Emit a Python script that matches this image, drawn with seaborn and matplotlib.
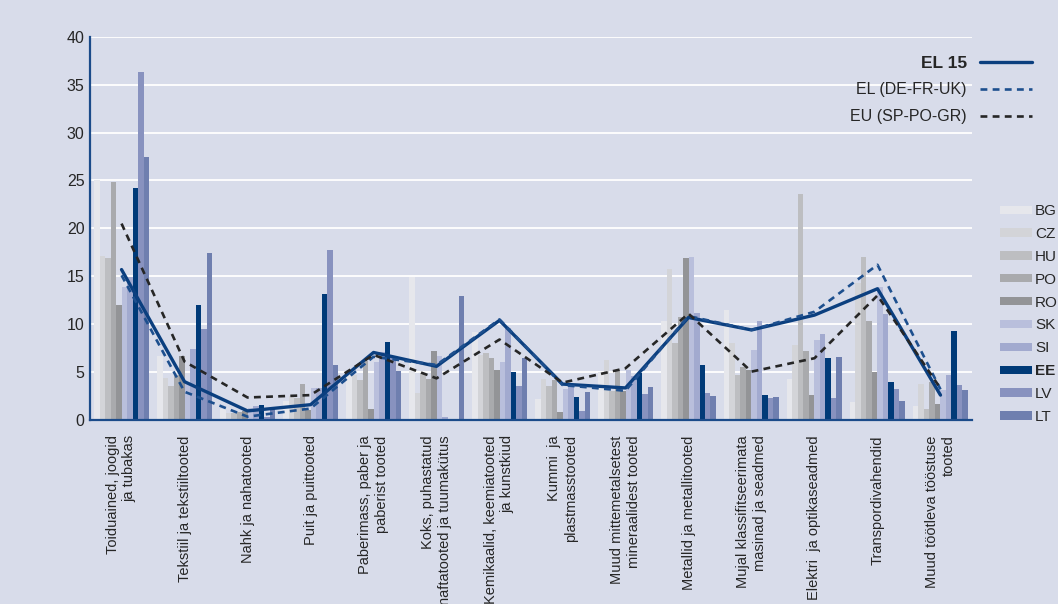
import numpy as np
import pandas as pd
import matplotlib
matplotlib.use('Agg')
import matplotlib.pyplot as plt
from matplotlib.patches import Patch
from matplotlib.lines import Line2D
import seaborn as sns

categories = [
    'Toiduained, joogid\nja tubakas',
    'Tekstiil ja tekstiiltooted',
    'Nahk ja nahatooted',
    'Puit ja puittooted',
    'Paberimass, paber ja\npaberist tooted',
    'Koks, puhastatud\nnaftatooted ja tuumakütus',
    'Kemikaalid, keemiatooted\nja kunstkiud',
    'Kummi  ja\nplastmasstooted',
    'Muud mittemetalsetest\nmineraalidest tooted',
    'Metallid ja metallitooted',
    'Mujal klassifitseerimata\nmasinad ja seadmed',
    'Elektri  ja optikaseadmed',
    'Transpordivahendid',
    'Muud töötleva tööstuse\ntooted',
]

countries = ['BG', 'CZ', 'HU', 'PO', 'RO', 'SK', 'SI', 'EE', 'LV', 'LT']

bg = [25.1, 6.7, 1.15, 2.0, 4.8, 14.9, 9.2, 2.2, 5.0, 10.3, 11.5, 4.3, 1.9, 1.45]
cz = [17.1, 4.4, 0.75, 2.5, 4.7, 2.85, 6.8, 4.3, 6.3, 15.8, 8.0, 7.8, 14.3, 3.8]
hu = [16.9, 3.5, 0.75, 2.3, 4.2, 4.9, 7.0, 3.5, 3.0, 8.05, 4.7, 23.6, 17.0, 1.2]
po = [24.8, 4.7, 0.8, 3.75, 6.2, 4.25, 6.5, 4.2, 5.2, 10.8, 5.55, 7.2, 10.3, 4.0]
ro = [12.0, 6.7, 0.9, 1.0, 1.15, 7.2, 5.2, 0.85, 3.0, 16.95, 5.2, 2.6, 5.0, 1.65]
sk = [13.9, 3.8, 1.25, 3.3, 6.1, 6.65, 6.1, 3.2, 5.2, 17.0, 7.3, 8.35, 13.9, 3.1]
si = [14.9, 7.4, 1.45, 3.3, 7.15, 0.3, 9.65, 3.55, 4.6, 11.2, 10.3, 8.95, 11.05, 4.7]
ee = [24.2, 12.0, 1.55, 13.1, 8.1, 0.0, 5.0, 2.4, 4.9, 5.75, 2.6, 6.45, 3.95, 9.3]
lv = [36.3, 9.5, 0.3, 17.7, 6.6, 0.0, 3.5, 0.95, 2.75, 2.8, 2.3, 2.3, 3.2, 3.65]
lt = [27.5, 17.4, 1.2, 5.7, 5.1, 12.9, 6.5, 2.9, 3.45, 2.5, 2.4, 6.55, 2.0, 3.1]

el15 = [15.7, 4.0, 0.95, 1.6, 7.05, 5.6, 10.4, 3.75, 3.35, 10.7, 9.4, 10.95, 13.7, 2.6]
el_defruk = [15.1, 2.95, 0.35, 1.2, 6.6, 5.75, 10.5, 3.65, 3.05, 10.85, 9.4, 11.3, 16.2, 3.2]
eu_spogr = [20.5, 6.1, 2.35, 2.6, 6.8, 4.35, 8.4, 3.9, 5.4, 11.1, 5.05, 6.45, 13.0, 3.3]

bar_colors = ['#E6E7EC', '#D3D4D8', '#BDBEC1', '#A9AAAD', '#939497',
              '#B9BFDC', '#A2AACF', '#003A78', '#8892BF', '#6F7FAF']
palette = dict(zip(countries, bar_colors))

values = [bg, cz, hu, po, ro, sk, si, ee, lv, lt]
df = pd.DataFrame({
    'cat': np.tile(categories, len(countries)),
    'country': np.repeat(countries, len(categories)),
    'value': np.concatenate(values),
})

sns.set_style('white')
plt.rcParams['font.family'] = ['Liberation Sans', 'DejaVu Sans']

bgc = '#D8DCEA'
txt = '#262626'
fig = plt.figure(figsize=(10.58, 6.04), dpi=100, facecolor=bgc)
ax = fig.add_axes([0.0851, 0.3046, 0.8336, 0.6346])
ax.set_facecolor(bgc)

sns.barplot(data=df, x='cat', y='value', hue='country', order=categories,
            hue_order=countries, palette=palette, width=0.873, linewidth=0,
            saturation=1, legend=False, ax=ax)

xpos = np.arange(len(categories))
line_blue = '#0B3F7F'
dash = (0, (2.6, 2.0))
sns.lineplot(x=xpos, y=el15, ax=ax, color=line_blue, linewidth=2.4)
sns.lineplot(x=xpos, y=el_defruk, ax=ax, color='#1D4F8E', linewidth=1.9,
             linestyle=dash)
sns.lineplot(x=xpos, y=eu_spogr, ax=ax, color='#262626', linewidth=1.9,
             linestyle=dash)

ax.set_xlim(-0.5, len(categories) - 0.5)
ax.set_ylim(0, 40)
ax.set_yticks(range(0, 41, 5))
ax.yaxis.grid(True, color='white', linewidth=1.3)
ax.set_axisbelow(True)
ax.set_xlabel('')
ax.set_ylabel('')
for s in ['top', 'right']:
    ax.spines[s].set_visible(False)
for s in ['left', 'bottom']:
    ax.spines[s].set_color('#1B4B8A')
    ax.spines[s].set_linewidth(1.6)

ax.set_xticks(xpos)
ax.set_xticklabels(categories, rotation=90, ha='center', va='top',
                   multialignment='right', fontsize=10.5, color=txt)
ax.tick_params(axis='x', length=0, pad=11)
ax.tick_params(axis='y', length=0, pad=4, labelsize=11.5, labelcolor=txt)

bar_handles = [Patch(facecolor=c, edgecolor='none') for c in bar_colors]
leg1 = fig.legend(bar_handles, countries, loc='upper left',
                  bbox_to_anchor=(0.945, 0.662), frameon=False, fontsize=11,
                  handlelength=2.1, handleheight=0.45, handletextpad=0.2,
                  labelspacing=0.58, borderaxespad=0, borderpad=0)
for t in leg1.get_texts():
    t.set_color(txt)
leg1.get_texts()[7].set_fontweight('bold')

line_handles = [
    Line2D([], [], color=line_blue, linewidth=2.4),
    Line2D([], [], color='#1D4F8E', linewidth=1.9, linestyle=dash),
    Line2D([], [], color='#262626', linewidth=1.9, linestyle=dash),
]
leg2 = fig.legend(line_handles, ['EL 15', 'EL (DE-FR-UK)', 'EU (SP-PO-GR)'],
                  loc='upper right', bbox_to_anchor=(0.975, 0.908),
                  frameon=False, fontsize=11.5, markerfirst=False,
                  handlelength=3.25, handletextpad=0.8, labelspacing=0.74,
                  borderaxespad=0, borderpad=0)
for t in leg2.get_texts():
    t.set_color(txt)
leg2.get_texts()[0].set_fontweight('bold')
leg2.get_texts()[0].set_fontsize(12.5)

fig.savefig('out.png', dpi=100, facecolor=bgc)
